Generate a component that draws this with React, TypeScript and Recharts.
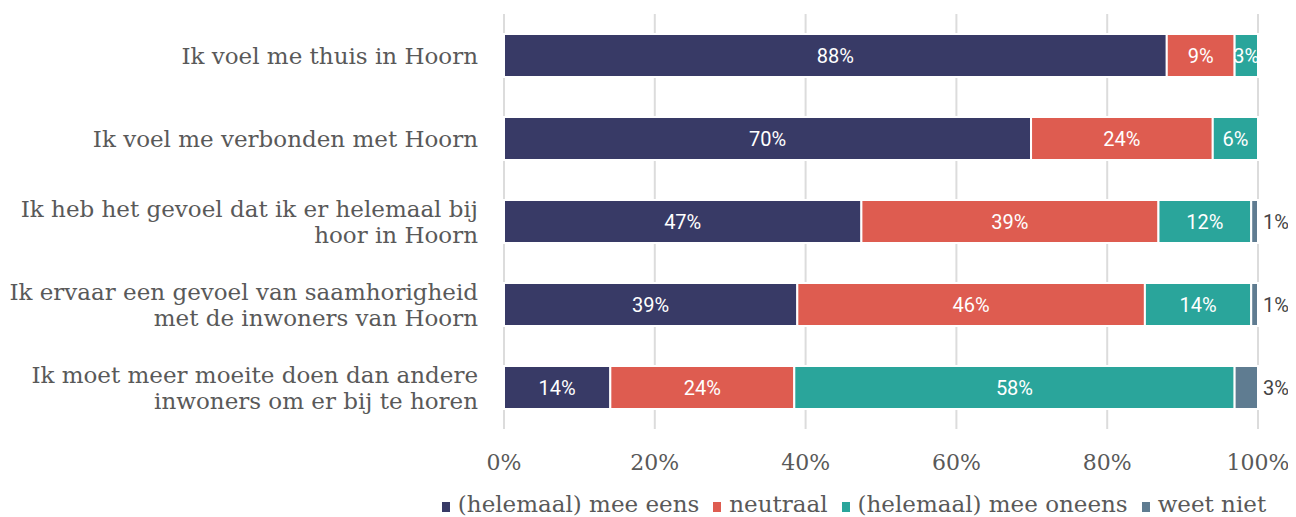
import React from 'react';
import {
  BarChart,
  Bar,
  XAxis,
  YAxis,
  CartesianGrid,
  Legend,
  LabelList,
} from 'recharts';

// statements (line breaks as in the source chart)
const categories = [
  'Ik voel me thuis in Hoorn',
  'Ik voel me verbonden met Hoorn',
  'Ik heb het gevoel dat ik er helemaal bij\nhoor in Hoorn',
  'Ik ervaar een gevoel van saamhorigheid\nmet de inwoners van Hoorn',
  'Ik moet meer moeite doen dan andere\ninwoners om er bij te horen',
];

const eens = [87.9, 69.9, 47.4, 38.9, 14.1];
const neutraal = [9.0, 24.1, 39.4, 46.1, 24.4];
const oneens = [3.1, 6.0, 12.3, 14.1, 58.4];
const weetNiet = [0, 0, 0.9, 0.9, 3.1];

const xTicks = [0, 20, 40, 60, 80, 100];

const series = [
  { key: 'eens', name: '(helemaal) mee eens', color: '#383a66' },
  { key: 'neutraal', name: 'neutraal', color: '#de5c50' },
  { key: 'oneens', name: '(helemaal) mee oneens', color: '#2aa59b' },
  { key: 'weetNiet', name: 'weet niet', color: '#5f7c91' },
];

const data = categories.map((name, i) => ({
  name,
  eens: eens[i],
  neutraal: neutraal[i],
  oneens: oneens[i],
  weetNiet: weetNiet[i],
}));

const serif = '"DejaVu Serif", serif';

const CategoryTick = ({ x, y, payload }: any) => {
  const lines = String(payload.value).split('\n');
  const lh = 26;
  const start = -((lines.length - 1) * lh) / 2;
  return (
    <text x={x - 18} y={y} textAnchor="end" fill="#595959" fontSize={23} fontFamily={serif}>
      {lines.map((l, i) => (
        <tspan key={i} x={x - 18} dy={i === 0 ? start + 8 : lh}>
          {l}
        </tspan>
      ))}
    </text>
  );
};

const PercentTick = ({ x, y, payload }: any) => (
  <text x={x} y={y + 33} textAnchor="middle" fill="#595959" fontSize={22} fontFamily={serif}>
    {payload.value}%
  </text>
);

// white label centred in the segment, clipped to the segment
const InsideLabel = ({ x, y, width, height, value }: any) => {
  if (!value || width <= 0) return null;
  return (
    <svg x={x} y={y} width={width} height={height} overflow="hidden">
      <text
        x={width / 2}
        y={height / 2 + 7}
        textAnchor="middle"
        fill="#ffffff"
        fontSize={20}
        fontFamily="Roboto, sans-serif"
      >
        {Math.round(value)}%
      </text>
    </svg>
  );
};

const OutsideLabel = ({ x, y, width, height, value }: any) => {
  if (!value) return null;
  return (
    <text
      x={x + width + 5}
      y={y + height / 2 + 7}
      fill="#444444"
      fontSize={20}
      fontFamily="Roboto, sans-serif"
    >
      {Math.round(value)}%
    </text>
  );
};

const LegendContent = () => (
  <div
    style={{
      display: 'flex',
      justifyContent: 'center',
      paddingLeft: 456,
      paddingTop: 14,
      fontFamily: serif,
      fontSize: 23,
      color: '#595959',
      whiteSpace: 'nowrap',
    }}
  >
    {series.map((s) => (
      <span key={s.key} style={{ display: 'inline-flex', alignItems: 'baseline', marginRight: 14 }}>
        <span
          style={{
            display: 'inline-block',
            width: 8,
            height: 10,
            background: s.color,
            marginRight: 8,
          }}
        />
        {s.name}
      </span>
    ))}
  </div>
);

export default function App() {
  return (
    <BarChart
      width={1280}
      height={509}
      data={data}
      layout="vertical"
      margin={{ top: 6, right: 30, bottom: 0, left: 0 }}
      barCategoryGap={40}
    >
      <CartesianGrid horizontal={false} stroke="#dcdcdc" strokeWidth={2} />
      <XAxis
        type="number"
        domain={[0, 100]}
        ticks={xTicks}
        interval={0}
        axisLine={false}
        tickLine={false}
        height={48}
        tick={<PercentTick />}
      />
      <YAxis
        type="category"
        dataKey="name"
        width={496}
        axisLine={false}
        tickLine={false}
        tick={<CategoryTick />}
      />
      <Legend verticalAlign="bottom" height={40} content={<LegendContent />} />
      {series.map((s) => (
        <Bar
          key={s.key}
          dataKey={s.key}
          name={s.name}
          stackId="a"
          fill={s.color}
          stroke="#ffffff"
          strokeWidth={2}
          barSize={43}
          isAnimationActive={false}
        >
          <LabelList
            dataKey={s.key}
            content={s.key === 'weetNiet' ? <OutsideLabel /> : <InsideLabel />}
          />
        </Bar>
      ))}
    </BarChart>
  );
}
